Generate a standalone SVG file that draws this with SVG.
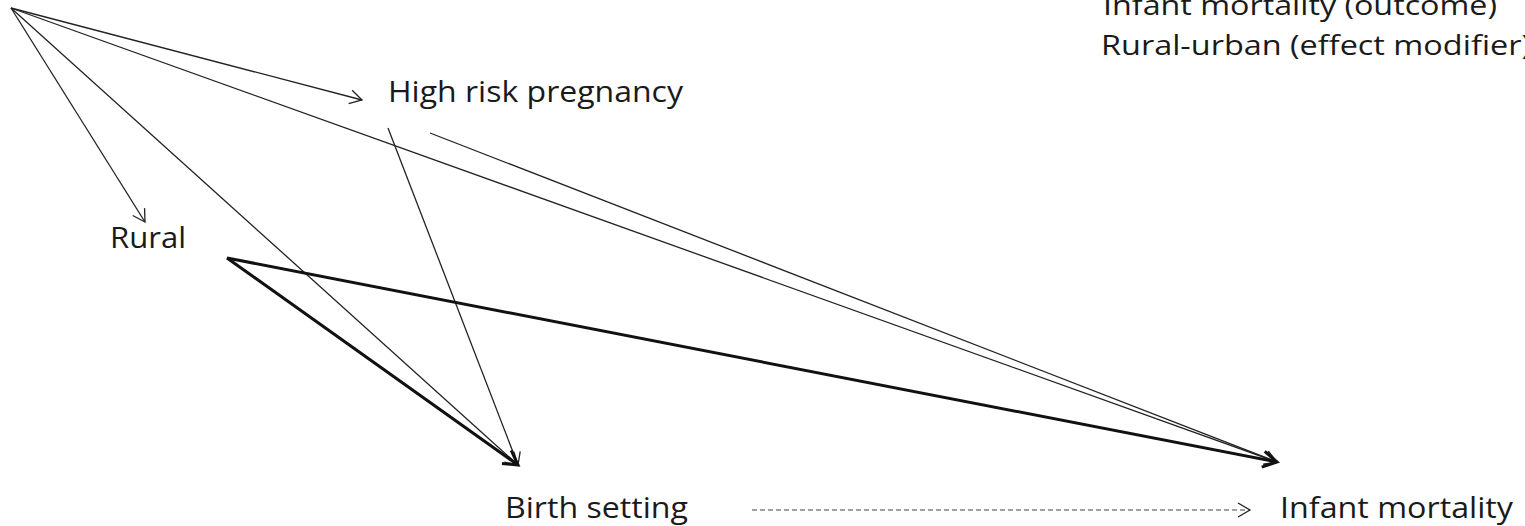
<svg xmlns="http://www.w3.org/2000/svg" width="1525" height="526" viewBox="0 0 1525 526">
<style>
text{font-family:"Open Sans","Liberation Sans",sans-serif;fill:#1a1a1a}
.lbl{font-size:30px}
.leg{font-size:28px}
.thin{stroke:#222;stroke-width:1.3;fill:none}
.thick{stroke:#111;stroke-width:3;fill:none}
.dash{stroke:#444;stroke-width:1.2;stroke-dasharray:5 3;fill:none}
</style>
<defs>
<marker id="a" markerUnits="userSpaceOnUse" markerWidth="30" markerHeight="30" refX="15" refY="15" orient="auto" overflow="visible">
<path d="M3,8 L15,15 L3,22" fill="none" stroke="#222" stroke-width="1.3"/>
</marker>
<marker id="ab" markerUnits="userSpaceOnUse" markerWidth="30" markerHeight="30" refX="15" refY="15" orient="auto" overflow="visible">
<path d="M1,7 L15,15 L1,23" fill="none" stroke="#111" stroke-width="3"/>
</marker>
</defs>
<rect width="1525" height="526" fill="#fff"/>
<g id="connectors">
<line class="thin" x1="11" y1="8" x2="362" y2="100" marker-end="url(#a)"/>
<line class="thin" x1="11" y1="8" x2="1277" y2="462" marker-end="url(#a)"/>
<line class="thin" x1="11" y1="8" x2="145" y2="222" marker-end="url(#a)"/>
<line class="thin" x1="11" y1="8" x2="518" y2="465" marker-end="url(#a)"/>
<line class="thin" x1="388" y1="128" x2="518" y2="465" marker-end="url(#a)"/>
<line class="thin" x1="430" y1="133" x2="1277" y2="462" marker-end="url(#a)"/>
<line class="thick" x1="227" y1="258" x2="518" y2="465" marker-end="url(#ab)"/>
<line class="thick" x1="227" y1="258" x2="1277" y2="462" marker-end="url(#ab)"/>
<line class="dash" x1="752" y1="510" x2="1250" y2="510" marker-end="url(#a)"/>
</g>
<g id="node-hrp"><text class="lbl" x="388" y="102" textLength="295" lengthAdjust="spacingAndGlyphs">High risk pregnancy</text></g>
<g id="node-rural"><text class="lbl" x="110" y="248" textLength="76" lengthAdjust="spacingAndGlyphs">Rural</text></g>
<g id="node-birth"><text class="lbl" x="505" y="518" textLength="183" lengthAdjust="spacingAndGlyphs">Birth setting</text></g>
<g id="node-infant"><text class="lbl" x="1280" y="518" textLength="233" lengthAdjust="spacingAndGlyphs">Infant mortality</text></g>
<g id="legend">
<text class="leg" x="1103" y="15" textLength="394" lengthAdjust="spacingAndGlyphs">Infant mortality (outcome)</text>
<text class="leg" x="1101" y="55" textLength="430" lengthAdjust="spacingAndGlyphs">Rural-urban (effect modifier)</text>
</g>
</svg>
